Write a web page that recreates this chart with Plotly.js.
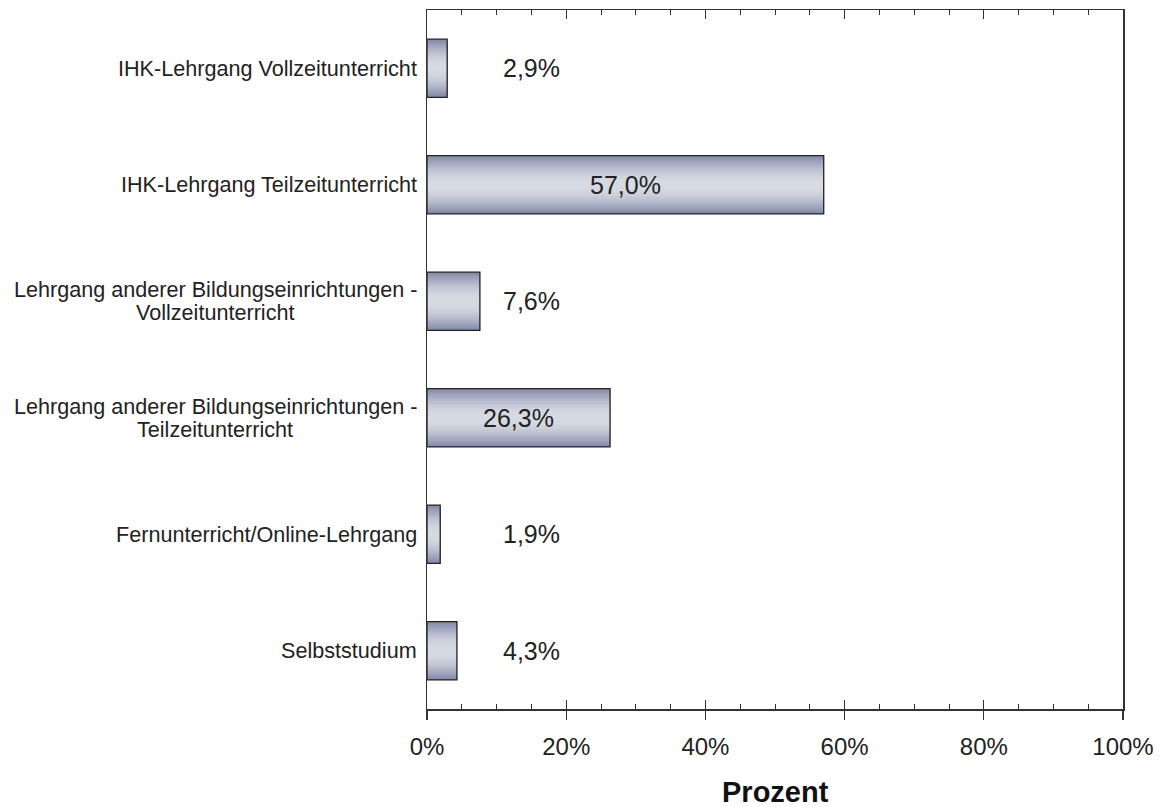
<!DOCTYPE html>
<html>
<head>
<meta charset="utf-8">
<script src="https://cdn.plot.ly/plotly-3.0.1.min.js"></script>
<style>html,body{margin:0;padding:0;background:#fff;}#chart{width:1167px;height:807px;}</style>
</head>
<body>
<div id="chart"></div>
<script>
const categories = [
  "IHK-Lehrgang Vollzeitunterricht",
  "IHK-Lehrgang Teilzeitunterricht",
  "Lehrgang anderer Bildungseinrichtungen -<br>Vollzeitunterricht",
  "Lehrgang anderer Bildungseinrichtungen -<br>Teilzeitunterricht",
  "Fernunterricht/Online-Lehrgang",
  "Selbststudium"
];
const values = [2.9, 57.0, 7.6, 26.3, 1.9, 4.3];
const valueLabels = ["2,9%", "57,0%", "7,6%", "26,3%", "1,9%", "4,3%"];
const xTickVals = [0, 20, 40, 60, 80, 100];
const xTickText = ["0%", "20%", "40%", "60%", "80%", "100%"];

const FONT = "Liberation Sans, Arial, sans-serif";
const CAT_SIZE = 21.6;
const LINE_GAP = 22.6;
const LABEL_PAD = 10;
const BAR_W = 0.5;
const edge = [132, 140, 170];
const center = [214, 218, 226];
const N = 14;

const ctx = document.createElement('canvas').getContext('2d');
ctx.font = CAT_SIZE + 'px "Liberation Sans", Arial, sans-serif';

const traces = [];
for (let k = 0; k < N; k++) {
  const t = k / (N - 1);
  const f = Math.sin(t * Math.PI / 2);
  const c = edge.map((e, i) => Math.round(e + (center[i] - e) * f));
  traces.push({
    type: 'bar', orientation: 'h',
    x: values, y: categories,
    width: BAR_W * (1 - k / N),
    marker: {color: `rgb(${c[0]},${c[1]},${c[2]})`, line: {width: 0}},
    hoverinfo: 'skip', showlegend: false
  });
}
traces.push({
  type: 'bar', orientation: 'h',
  x: values, y: categories, width: BAR_W,
  marker: {color: 'rgba(0,0,0,0)', line: {color: '#222', width: 1.3}},
  showlegend: false
});
traces.push({type: 'scatter', x: [0], y: [categories[0]], xaxis: 'x2', mode: 'markers',
  marker: {opacity: 0}, showlegend: false, hoverinfo: 'skip'});

const annotations = values.map((v, i) => ({
  x: v >= 20 ? v / 2 : 10.6,
  y: categories[i],
  xanchor: v >= 20 ? 'center' : 'left',
  yanchor: 'middle',
  text: valueLabels[i],
  showarrow: false,
  font: {family: FONT, size: 25, color: '#222'}
}));

categories.forEach(cat => {
  const lines = cat.split('<br>');
  const widths = lines.map(l => ctx.measureText(l).width);
  const maxW = Math.max(...widths);
  lines.forEach((l, j) => {
    annotations.push({
      xref: 'paper', x: 0, y: cat, yref: 'y',
      xanchor: 'center', yanchor: 'middle',
      xshift: -(LABEL_PAD + maxW / 2),
      yshift: ((lines.length - 1) / 2 - j) * LINE_GAP,
      text: l, showarrow: false,
      font: {family: FONT, size: CAT_SIZE, color: '#222'}
    });
  });
});

annotations.push({
  xref: 'paper', yref: 'paper', x: 0.5, y: 0, yshift: -101,
  xanchor: 'center', yanchor: 'bottom',
  text: '<b>Prozent</b>', showarrow: false,
  font: {family: FONT, size: 29, color: '#111'}
});

const layout = {
  width: 1167, height: 807,
  margin: {l: 427, r: 44, t: 10, b: 98},
  paper_bgcolor: '#fff', plot_bgcolor: '#fff',
  barmode: 'overlay',
  showlegend: false,
  font: {family: FONT, color: '#222'},
  xaxis: {
    range: [0, 100], tickvals: xTickVals, ticktext: xTickText,
    showgrid: false, zeroline: false,
    showline: true, linecolor: '#333', linewidth: 1.5, mirror: 'ticks',
    ticks: 'inside', ticklen: 9, tickcolor: '#333', tickwidth: 1.3,
    minor: {dtick: 5, tick0: 0, ticks: 'inside', ticklen: 5, tickcolor: '#333', tickwidth: 1, showgrid: false},
    tickfont: {family: FONT, size: 24, color: '#222'},
    ticklabelstandoff: 16,
    fixedrange: true
  },
  xaxis2: {
    overlaying: 'x', side: 'bottom', range: [0, 100], tickvals: xTickVals,
    showticklabels: false, ticks: 'outside', ticklen: 10, tickcolor: '#333', tickwidth: 1.3,
    showgrid: false, zeroline: false, showline: false
  },
  yaxis: {
    type: 'category', categoryorder: 'array', categoryarray: categories,
    autorange: 'reversed',
    showgrid: false, zeroline: false,
    showline: true, linecolor: '#333', linewidth: 1.5, mirror: true,
    ticks: '', showticklabels: false,
    fixedrange: true
  },
  annotations: annotations
};

Plotly.newPlot('chart', traces, layout, {displayModeBar: false, staticPlot: true});
</script>
</body>
</html>
